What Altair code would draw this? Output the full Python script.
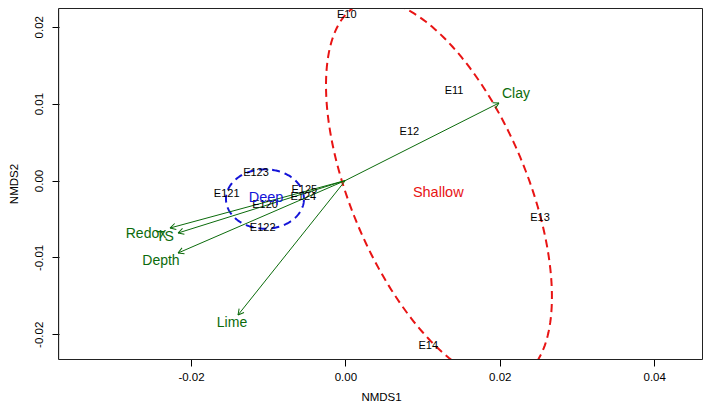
import altair as alt
import numpy as np
import pandas as pd

# ---- data ----
site_names = ["E10", "E11", "E12", "E13", "E14", "E120", "E121", "E122", "E123", "E124", "E125"]
site_x = [0.00017, 0.01407, 0.00828, 0.02521, 0.01074, -0.01041, -0.01538, -0.01071, -0.01158, -0.00545, -0.00532]
site_y = [0.02152, 0.01168, 0.00627, -0.00484, -0.02152, -0.00319, -0.00179, -0.00622, 0.00101, -0.00211, -0.00124]

var_names = ["Clay", "Redox", "TS", "Depth", "Lime"]
var_x = [0.01990, -0.02272, -0.02168, -0.02168, -0.01391]
var_y = [0.01008, -0.00618, -0.00683, -0.00943, -0.01749]
var_label_x = [0.02210, -0.02583, -0.02337, -0.02389, -0.01469]
var_label_y = [0.01125, -0.00696, -0.00735, -0.01047, -0.01853]

group_names = ["Deep", "Shallow"]
group_colors = ["#1414d8", "#e81414"]
group_cx = [-0.01042, 0.01212]
group_cy = [-0.00241, -0.00137]
# ellipse semi-axis vectors (u and v) in data units
group_ux = [0.00505, 0.01018]
group_uy = [0.0, -0.02434]
group_vx = [0.0, 0.01051]
group_vy = [0.00386, 0.00443]
group_label_x = [-0.01028, 0.01203]
group_label_y = [-0.00224, -0.00159]

x_ticks = [-0.02, 0.0, 0.02, 0.04]
y_ticks = [-0.02, -0.01, 0.0, 0.01, 0.02]

X_DOMAIN = [-0.037098, 0.046321]
Y_DOMAIN = [-0.023212, 0.022432]
W, H = 644, 351
GREEN = "#0b6b0b"
FONT = "Liberation Sans"

# ---- tables ----
sites = pd.DataFrame({"name": site_names, "x": site_x, "y": site_y})

kx = W / (X_DOMAIN[1] - X_DOMAIN[0])
ky = H / (Y_DOMAIN[1] - Y_DOMAIN[0])
angles = [float(np.degrees(np.arctan2(-vy * ky, vx * kx)) % 360) for vx, vy in zip(var_x, var_y)]
vectors = pd.DataFrame({
    "name": var_names, "x0": 0.0, "y0": 0.0, "x": var_x, "y": var_y,
    "lx": var_label_x, "ly": var_label_y, "angle": angles,
})

rows = []
t = np.linspace(0, 2 * np.pi, 241)
for g, cx, cy, ux, uy, vx, vy in zip(group_names, group_cx, group_cy, group_ux, group_uy, group_vx, group_vy):
    for i, tt in enumerate(t):
        rows.append({"group": g, "i": i,
                     "x": cx + ux * np.cos(tt) + vx * np.sin(tt),
                     "y": cy + uy * np.cos(tt) + vy * np.sin(tt)})
ell = pd.DataFrame(rows)
glabels = pd.DataFrame({"group": group_names, "x": group_label_x, "y": group_label_y})

label_expr = "datum.value < 0 ? '-' + format(-datum.value, '.2f') : format(datum.value, '.2f')"

xs = alt.Scale(domain=X_DOMAIN, nice=False, zero=False)
ys = alt.Scale(domain=Y_DOMAIN, nice=False, zero=False)
x_axis = alt.Axis(values=x_ticks, labelExpr=label_expr, title="NMDS1", grid=False, domain=False,
                  tickSize=7, tickColor="black", labelPadding=5, titlePadding=9,
                  labelFontSize=11.5, titleFontSize=11.5, labelColor="black", titleColor="black",
                  titleFontWeight="normal", labelFont=FONT, titleFont=FONT)
y_axis = alt.Axis(values=y_ticks, labelExpr=label_expr, title="NMDS2", grid=False, domain=False,
                  tickSize=7, tickColor="black", labelPadding=8, titlePadding=14,
                  labelAngle=-90, labelAlign="center", labelBaseline="bottom",
                  labelFontSize=11.5, titleFontSize=11.5, labelColor="black", titleColor="black",
                  titleFontWeight="normal", labelFont=FONT, titleFont=FONT)

color_scale = alt.Scale(domain=group_names, range=group_colors)

ellipses = alt.Chart(ell).mark_line(strokeDash=[8, 5], strokeWidth=2, clip=True).encode(
    x=alt.X("x:Q", scale=xs, axis=x_axis),
    y=alt.Y("y:Q", scale=ys, axis=y_axis),
    order="i:Q",
    detail="group:N",
    color=alt.Color("group:N", scale=color_scale, legend=None),
)

group_text = alt.Chart(glabels).mark_text(fontSize=14.5, font=FONT).encode(
    x=alt.X("x:Q", scale=xs), y=alt.Y("y:Q", scale=ys), text="group:N",
    color=alt.Color("group:N", scale=color_scale, legend=None),
)

site_text = alt.Chart(sites).mark_text(fontSize=11, font=FONT, color="black").encode(
    x=alt.X("x:Q", scale=xs), y=alt.Y("y:Q", scale=ys), text="name:N",
)

arrows = alt.Chart(vectors).mark_rule(color=GREEN, strokeWidth=1).encode(
    x=alt.X("x0:Q", scale=xs), y=alt.Y("y0:Q", scale=ys), x2="x:Q", y2="y:Q",
)

heads = alt.Chart(vectors).mark_point(
    shape="M0,0L-1,-0.55M0,0L-1,0.55", filled=False, size=130, strokeWidth=1, color=GREEN, opacity=1
).encode(
    x=alt.X("x:Q", scale=xs), y=alt.Y("y:Q", scale=ys),
    angle=alt.Angle("angle:Q", scale=None),
)

var_text = alt.Chart(vectors).mark_text(fontSize=14, font=FONT, color=GREEN).encode(
    x=alt.X("lx:Q", scale=xs), y=alt.Y("ly:Q", scale=ys), text="name:N",
)

frame = alt.Chart(pd.DataFrame({"k": [0]})).mark_rect(
    fill="transparent", stroke="#222222", strokeWidth=1
).encode(
    x=alt.value(-0.5), x2=alt.value(W - 0.5), y=alt.value(0.5), y2=alt.value(H + 0.5),
)

chart = alt.layer(ellipses, arrows, heads, site_text, var_text, group_text, frame).properties(
    width=W, height=H,
    autosize=alt.AutoSizeParams(type="none"),
    padding={"left": 51, "top": 0, "right": 0, "bottom": 45},
).configure_view(stroke="transparent").configure(font=FONT)

chart.save("out.html", embed_options={"renderer": "svg", "actions": False})
